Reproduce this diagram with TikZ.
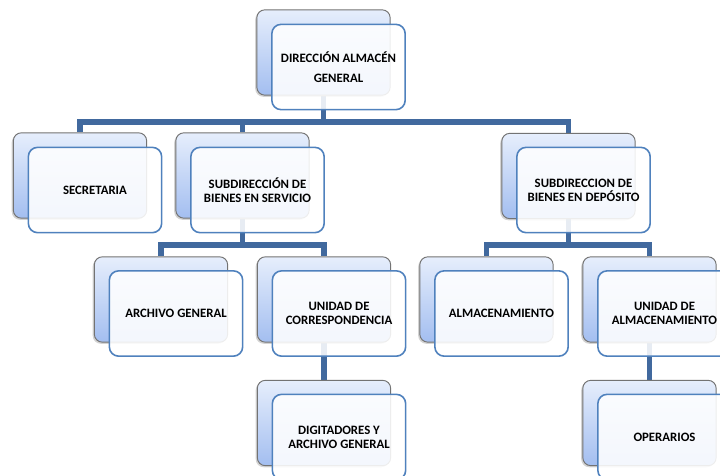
\documentclass[tikz,border=0pt]{standalone}
\usepackage{fontspec}
\setmainfont{Carlito}[BoldFont={Carlito Bold}]
\usetikzlibrary{shadows,backgrounds}
\definecolor{backtop}{HTML}{E6EEFC}
\definecolor{backbot}{HTML}{A3BEF0}
\definecolor{frontline}{HTML}{4F81BD}
\definecolor{linkblue}{HTML}{41699E}
\begin{document}
\begin{tikzpicture}[x=0.75pt,y=-0.75pt,font=\fontsize{9.6pt}{10.5pt}\selectfont\bfseries]
      \tikzset{back/.style={draw=black!55, line width=0.7pt, rounded corners=6pt, minimum width=100pt, minimum height=64pt, top color=backtop, bottom color=backbot, drop shadow={shadow xshift=-1.2pt, shadow yshift=-1.2pt, opacity=0.35}},
        front/.style={draw=frontline, line width=1.2pt, rounded corners=7pt, minimum width=100pt, minimum height=64pt, fill=white, fill opacity=0.88, text opacity=1, text=black, align=center},
        link/.style={draw=linkblue, line width=3.8pt}}
      \useasboundingbox (0,0) rectangle (720,475);
      \clip (0,0) rectangle (720,475);
      % top
      \node[back] (dirB) at (323.5,52.5) {};
      \node[front] (dir) at (338.5,67) {DIRECCIÓN ALMACÉN\\[4.5pt]GENERAL};
      % first level
      \node[back] (secB) at (80,175.5) {};
      \node[front] (sec) at (95,190) {SECRETARIA};
      \node[back] (servB) at (242.5,175.5) {};
      \node[front] (serv) at (257.5,190) {SUBDIRECCIÓN DE\\BIENES EN SERVICIO};
      \node[back] (depB) at (568.5,176) {};
      \node[front] (dep) at (583.5,190) {SUBDIRECCION DE\\BIENES EN DEPÓSITO};
      % second level
      \node[back] (archB) at (161,299.5) {};
      \node[front] (arch) at (176,313.5) {ARCHIVO GENERAL};
      \node[back] (corrB) at (324,299.5) {};
      \node[front] (corr) at (339,313.5) {UNIDAD DE\\CORRESPONDENCIA};
      \node[back] (almB) at (486.5,299.5) {};
      \node[front] (alm) at (501.5,313.5) {ALMACENAMIENTO};
      \node[back] (ualmB) at (649.5,299.5) {};
      \node[front] (ualm) at (664.5,313.5) {UNIDAD DE\\ALMACENAMIENTO};
      % third level
      \node[back] (digB) at (324,423) {};
      \node[front] (dig) at (339,437) {DIGITADORES Y\\ARCHIVO GENERAL};
      \node[back] (opeB) at (649.5,423) {};
      \node[front] (ope) at (664.5,437) {OPERARIOS};
      % links
      \begin{pgfonlayer}{background}
        \coordinate (top) at (323.5,122);
        \coordinate (left) at (242.5,245);
        \coordinate (right) at (568.5,245);
        \draw[link] (dirB.south) -- (top);
        \draw[link] (top) -| (secB.north);
        \draw[link] (top) -| (servB.north);
        \draw[link] (top) -| (depB.north);
        \draw[link] (servB.south) -- (left);
        \draw[link] (left) -| (archB.north);
        \draw[link] (left) -| (corrB.north);
        \draw[link] (depB.south) -- (right);
        \draw[link] (right) -| (almB.north);
        \draw[link] (right) -| (ualmB.north);
        \draw[link] (corrB.south) -- (digB.north);
        \draw[link] (ualmB.south) -- (opeB.north);
      \end{pgfonlayer}
    \end{tikzpicture}
\end{document}
